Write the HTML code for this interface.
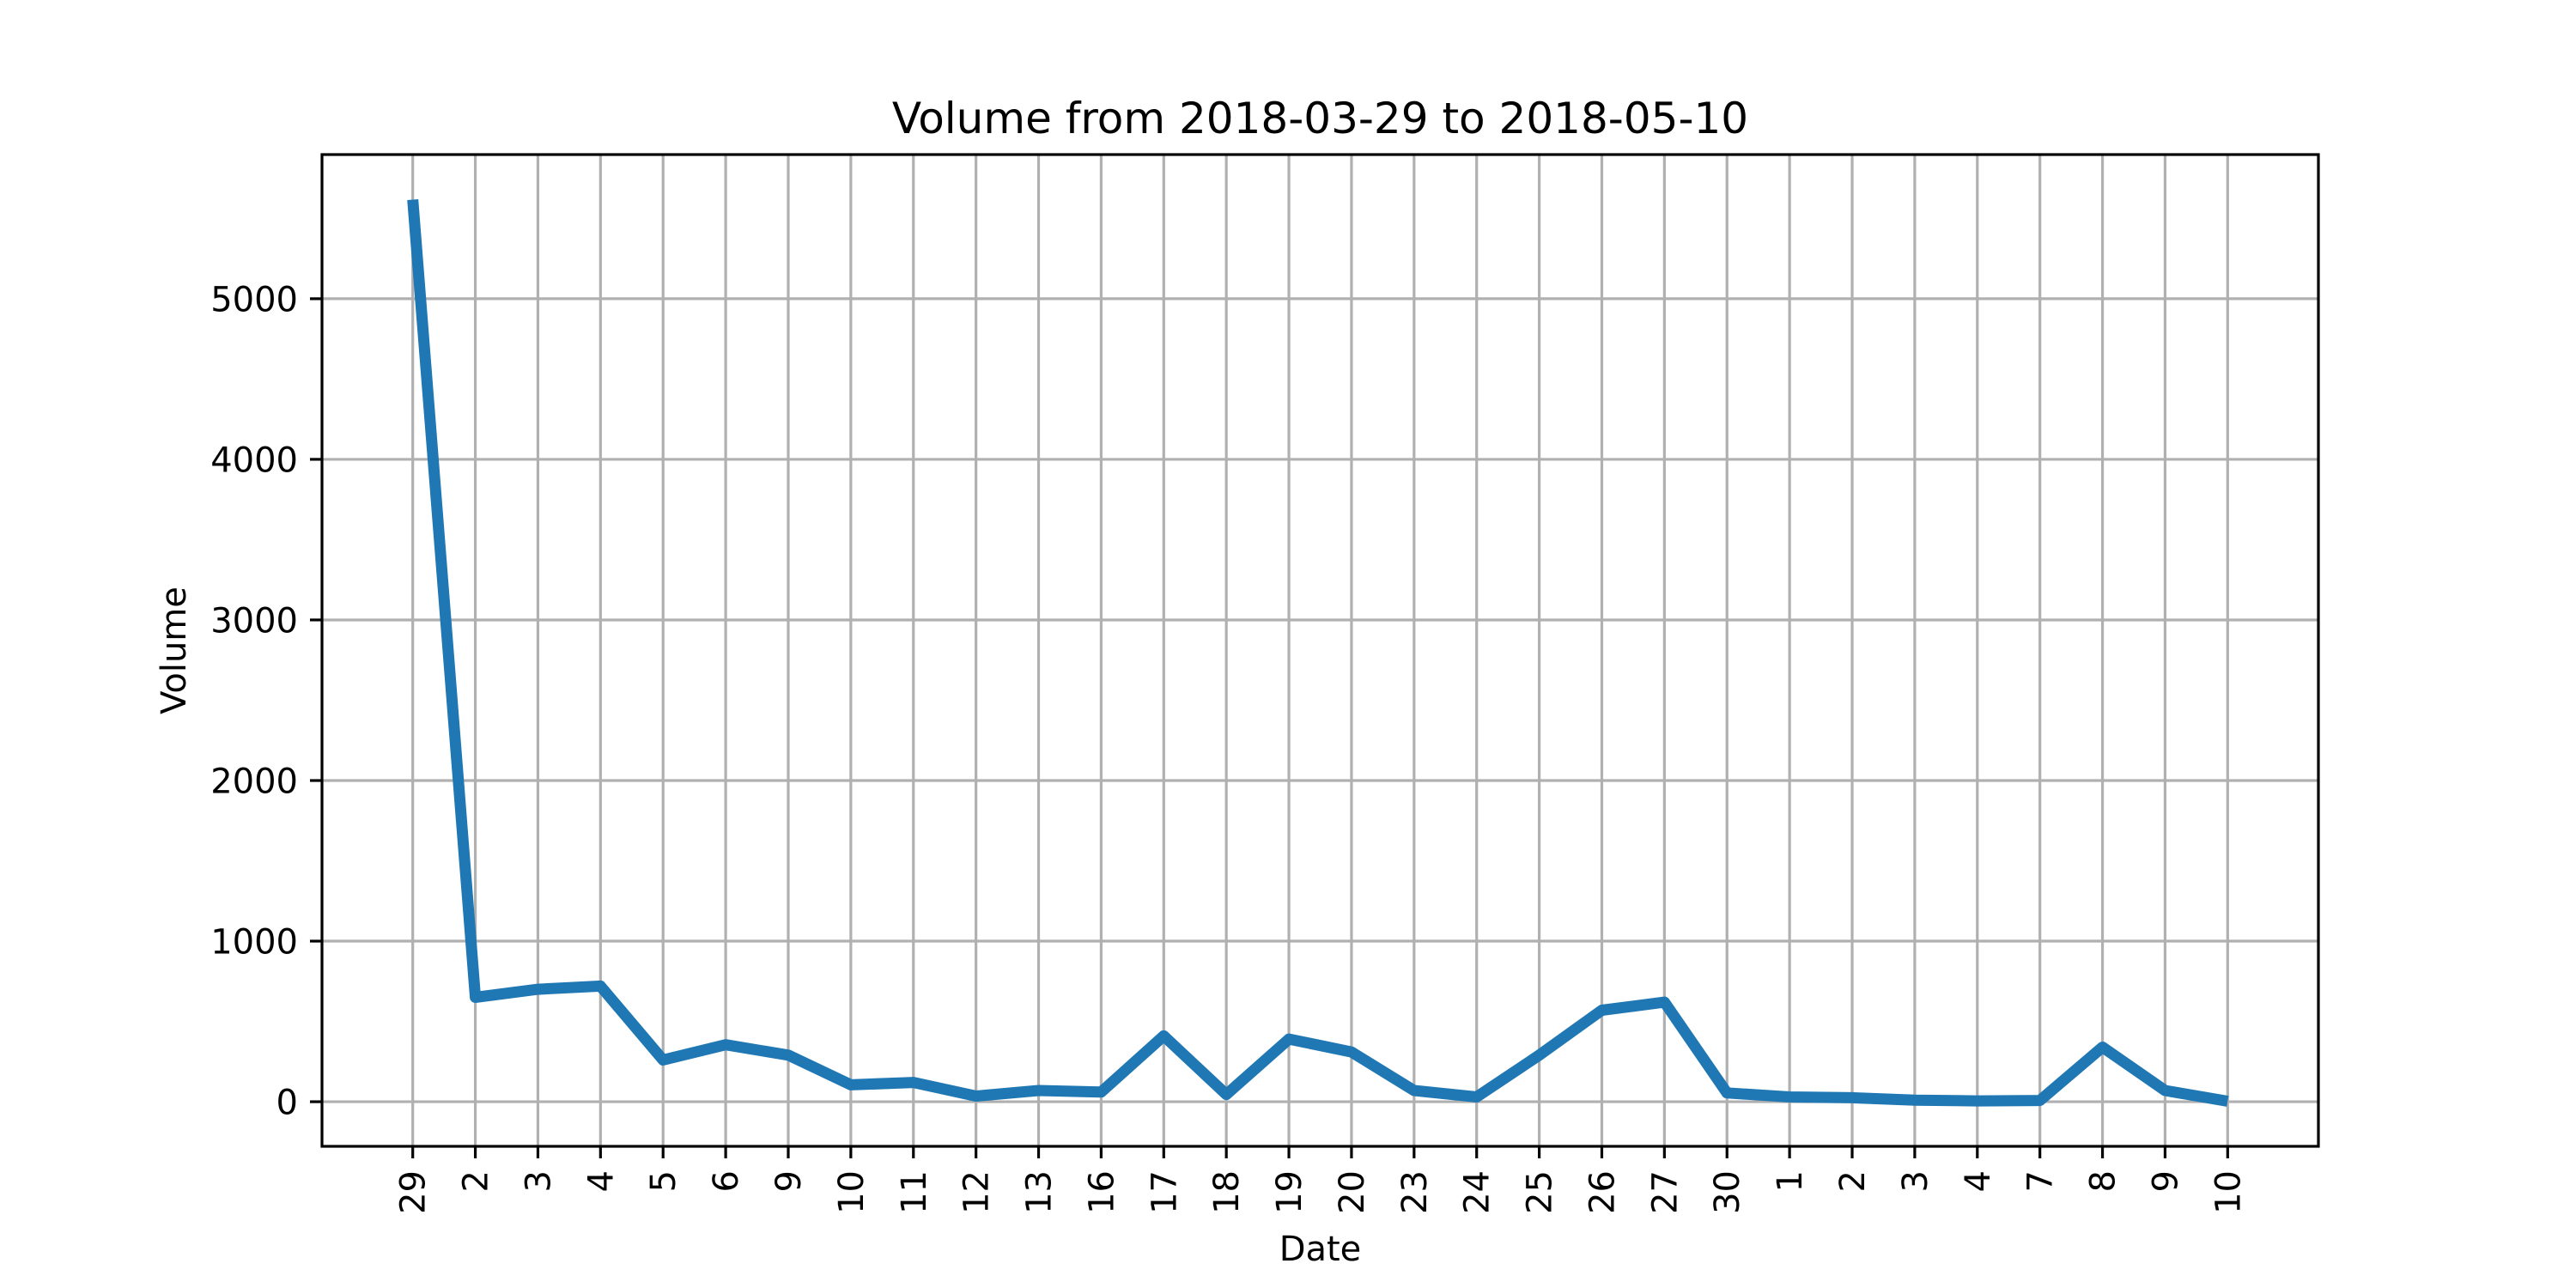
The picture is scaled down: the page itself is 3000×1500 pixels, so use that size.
<!DOCTYPE html>
<html><head><meta charset="utf-8"><style>html,body{margin:0;padding:0;background:#fff}svg{display:block}text{font-family:"DejaVu Sans","Liberation Sans",sans-serif;fill:#000}</style></head>
<body>
<svg id="chart" width="3000" height="1500" viewBox="0 0 3000 1500" xmlns="http://www.w3.org/2000/svg">
<rect width="3000" height="1500" fill="#fff"/>
<g id="grid"></g><g id="series"></g><g id="axes"></g>
<text x="1537.5" y="155" font-size="50" text-anchor="middle">Volume from 2018-03-29 to 2018-05-10</text>
<text x="1537.5" y="1468" font-size="40" text-anchor="middle">Date</text>
<text x="0" y="0" font-size="40" text-anchor="middle" transform="translate(216,757.5) rotate(-90)">Volume</text>
</svg>
<script>
const categories=["29","2","3","4","5","6","9","10","11","12","13","16","17","18","19","20","23","24","25","26","27","30","1","2","3","4","7","8","9","10"];
const volumes=[5617,650,700,720,260,355,290,105,120,35,70,60,410,45,390,310,70,30,290,570,620,55,30,25,10,5,8,340,70,3];
const yTicks=[0,1000,2000,3000,4000,5000];
const yTickLabels=["0","1000","2000","3000","4000","5000"];
</script>
<script>
const NS="http://www.w3.org/2000/svg";
const L=375,R=2700,T=180,B=1335;
const n=volumes.length;
const xStep=(R-L)/((n-1)*1.1);
const x0=L+0.05*(n-1)*xStep;
function xs(i){return x0+i*xStep;}
const vmin=Math.min(...volumes),vmax=Math.max(...volumes);
const span=vmax-vmin, ylo=vmin-0.05*span, yhi=vmax+0.05*span;
function ys(v){return B-(v-ylo)/(yhi-ylo)*(B-T);}
function mk(tag,attrs,parent){const e=document.createElementNS(NS,tag);for(const k in attrs)e.setAttribute(k,attrs[k]);parent.appendChild(e);return e;}
const grid=document.getElementById('grid'),axes=document.getElementById('axes'),series=document.getElementById('series');
categories.forEach((c,i)=>{
  const x=xs(i);
  const g=mk('line',{x1:x,x2:x,y1:T,y2:B,stroke:'#b0b0b0','stroke-width':3.2},grid);
  
  
  const t=mk('line',{x1:x,x2:x,y1:B,y2:B+14,stroke:'#000','stroke-width':3.2},axes);
  
  
  const lb=mk('text',{x:0,y:0,'font-size':40,'text-anchor':'end',transform:`translate(${x+14},${B+28}) rotate(-90)`},axes);
  lb.textContent=c;
  
  
});
yTicks.forEach((v,i)=>{
  const y=ys(v);
  const g=mk('line',{x1:L,x2:R,y1:y,y2:y,stroke:'#b0b0b0','stroke-width':3.2},grid);
  
  
  const t=mk('line',{x1:L-14,x2:L,y1:y,y2:y,stroke:'#000','stroke-width':3.2},axes);
  
  
  const lb=mk('text',{x:L-28,y:y+14.5,'font-size':40,'text-anchor':'end'},axes);
  lb.textContent=yTickLabels[i];
  
  
});
const pts=volumes.map((v,i)=>xs(i).toFixed(1)+','+ys(v).toFixed(1)).join(' ');
const pl=mk('polyline',{points:pts,fill:'none',stroke:'#1f77b4','stroke-width':13,'stroke-linejoin':'round','stroke-linecap':'butt'},series);


const fr=mk('rect',{x:L,y:T,width:R-L,height:B-T,fill:'none',stroke:'#000','stroke-width':3.2},axes);


</script>
</body></html>
